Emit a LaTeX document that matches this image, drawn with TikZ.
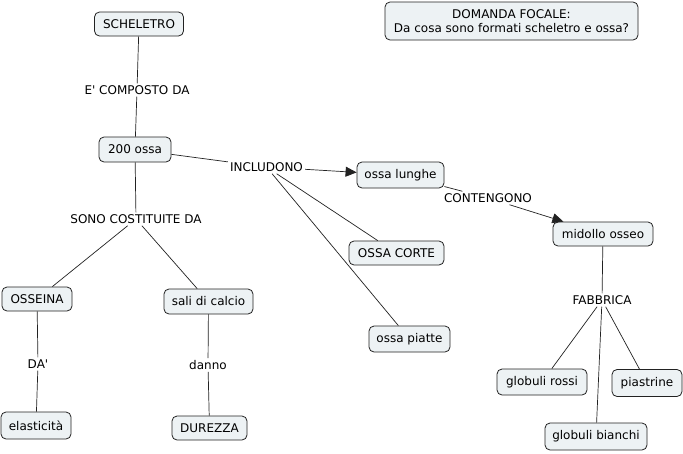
\documentclass[tikz,border=0pt]{standalone}
\usepackage{fontspec}
\setmainfont{DejaVu Sans}[Ligatures=TeXOff]
\usetikzlibrary{arrows.meta}
\definecolor{cfill}{HTML}{EDF2F4}
\definecolor{cline}{HTML}{222222}
\tikzset{
  concept/.style={draw=cline, line width=0.8pt, fill=cfill, rounded corners=5pt,
    inner sep=0pt, font=\fontsize{12}{14}\selectfont, align=center},
  lbl/.style={inner sep=2pt, font=\fontsize{12}{14}\selectfont, fill=white},
  link/.style={draw=cline, line width=0.7pt},
  arr/.style={link, -{Triangle[length=11pt,width=10pt]}}
}
\begin{document}
\begin{tikzpicture}[x=1pt,y=-1pt]
\useasboundingbox (0,0) rectangle (683,453);
\fill[white] (0,0) rectangle (683,453);
% concepts
\node[concept, minimum width=89pt, minimum height=24pt] (sch) at (139,24) {SCHELETRO};
\node[concept, minimum width=72pt, minimum height=25pt] (oss) at (135,149.5) {200 ossa};
\node[concept, minimum width=253pt, minimum height=38pt] (dom) at (511.5,21) {DOMANDA FOCALE:\\Da cosa sono formati scheletro e ossa?};
\node[concept, minimum width=87pt, minimum height=26pt] (lun) at (400.5,175) {ossa lunghe};
\node[concept, minimum width=100pt, minimum height=24pt] (mid) at (603,234) {midollo osseo};
\node[concept, minimum width=95pt, minimum height=24pt] (cor) at (396.5,253) {OSSA CORTE};
\node[concept, minimum width=81pt, minimum height=26pt] (pia) at (409.5,339) {ossa piatte};
\node[concept, minimum width=90pt, minimum height=26pt] (ros) at (542,382) {globuli rossi};
\node[concept, minimum width=70pt, minimum height=27pt] (pst) at (647,383) {piastrine};
\node[concept, minimum width=102pt, minimum height=27pt] (bia) at (596,436.5) {globuli bianchi};
\node[concept, minimum width=70pt, minimum height=24pt] (ose) at (37,299) {OSSEINA};
\node[concept, minimum width=89pt, minimum height=25pt] (sal) at (208.5,301.5) {sali di calcio};
\node[concept, minimum width=70pt, minimum height=27pt] (ela) at (36,425.5) {elasticità};
\node[concept, minimum width=75pt, minimum height=24pt] (dur) at (209.5,428) {DUREZZA};
% linking phrases
\node[lbl] (lcomp) at (137,90) {E' COMPOSTO DA};
\node[lbl] (linc) at (266.5,167) {INCLUDONO};
\node[lbl] (lcont) at (488,198) {CONTENGONO};
\node[lbl] (lfab) at (602,300) {FABBRICA};
\node[lbl] (lsono) at (136,219) {SONO COSTITUITE DA};
\node[lbl] (lda) at (38,364) {DA'};
\node[lbl] (ldan) at (208,365) {danno};
% connectors
\path[link] (sch) -- (lcomp);
\path[link] (lcomp) -- (oss);
\path[link] (oss) -- (linc);
\path[arr] (linc) -- (lun);
\path[link] (linc) -- (cor);
\path[link] (linc) -- (pia);
\path[link] (lun) -- (lcont);
\path[arr] (lcont) -- (mid);
\path[link] (mid) -- (lfab);
\path[link] (lfab) -- (ros);
\path[link] (lfab) -- (bia);
\path[link] (lfab) -- (pst);
\path[link] (oss) -- (lsono);
\path[link] (lsono) -- (ose);
\path[link] (lsono) -- (sal);
\path[link] (ose) -- (lda);
\path[link] (lda) -- (ela);
\path[link] (sal) -- (ldan);
\path[link] (ldan) -- (dur);
\end{tikzpicture}
\end{document}
